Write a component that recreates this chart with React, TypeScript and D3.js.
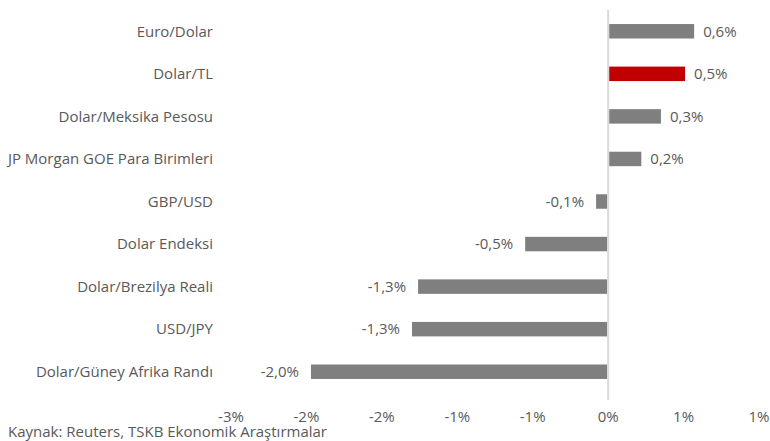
import React from "react";
import * as d3 from "d3";

const categories = [
  "Euro/Dolar",
  "Dolar/TL",
  "Dolar/Meksika Pesosu",
  "JP Morgan GOE Para Birimleri",
  "GBP/USD",
  "Dolar Endeksi",
  "Dolar/Brezilya Reali",
  "USD/JPY",
  "Dolar/Güney Afrika Randı",
];
const values = [0.57, 0.51, 0.35, 0.22, -0.08, -0.55, -1.26, -1.3, -1.97];
const valueLabels = ["0,6%", "0,5%", "0,3%", "0,2%", "-0,1%", "-0,5%", "-1,3%", "-1,3%", "-2,0%"];
const highlight = "Dolar/TL";
const tickValues = [-2.5, -2, -1.5, -1, -0.5, 0, 0.5, 1];
const tickLabels = ["-3%", "-2%", "-2%", "-1%", "-1%", "0%", "1%", "1%"];
const source = "Kaynak: Reuters, TSKB Ekonomik Araştırmalar";

const W = 770;
const H = 441;
const FONT = "'Open Sans', sans-serif";
const TXT = "#595959";
const FS = 15;

export default function App() {
  const x = d3.scaleLinear().domain([-2.5, 1]).range([231, 759]);
  const y = d3.scaleBand<string>().domain(categories).range([10, 393]).paddingInner(0.66).paddingOuter(0.33);
  const bw = y.bandwidth();
  return (
    <svg width={W} height={H} style={{ position: "absolute", left: 0, top: 0, background: "#fff" }}>
      {categories.map((c, i) => {
        const v = values[i];
        const cy = (y(c) as number) + bw / 2;
        const x0 = x(0) + (v >= 0 ? 1 : -1);
        const x1 = x(v);
        return (
          <g key={c}>
            <text x={213} y={cy} dy="0.35em" textAnchor="end" fontFamily={FONT} fontSize={FS} fill={TXT}>
              {c}
            </text>
            <rect
              x={Math.min(x0, x1)}
              y={y(c)}
              width={Math.abs(x1 - x0)}
              height={bw}
              fill={c === highlight ? "#c00000" : "#7f7f7f"}
            />
            <text
              x={v >= 0 ? x1 + 9 : x1 - 12}
              y={cy}
              dy="0.35em"
              textAnchor={v >= 0 ? "start" : "end"}
              fontFamily={FONT}
              fontSize={FS}
              fill={TXT}
            >
              {valueLabels[i]}
            </text>
          </g>
        );
      })}
      <line x1={x(0)} x2={x(0)} y1={10} y2={400} stroke="#d9d9d9" strokeWidth={2} />
      {tickValues.map((t, i) => (
        <text key={i} x={x(t)} y={416.5} dy="0.35em" textAnchor="middle" fontFamily={FONT} fontSize={FS} fill={TXT}>
          {tickLabels[i]}
        </text>
      ))}
      <text x={8} y={431.5} dy="0.35em" fontFamily={FONT} fontSize={FS} fill={TXT}>
        {source}
      </text>
    </svg>
  );
}
